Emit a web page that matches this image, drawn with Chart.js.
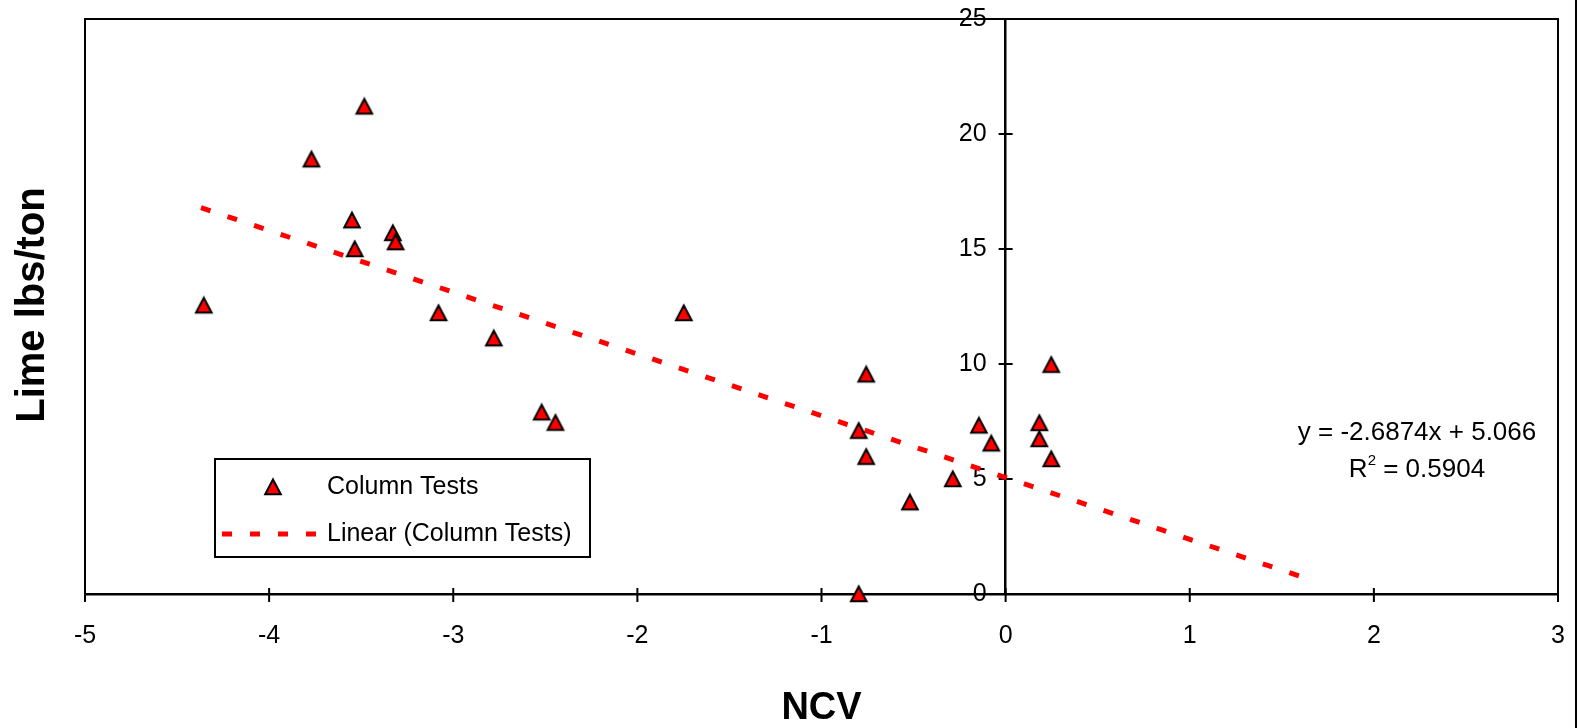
<!DOCTYPE html>
<html>
<head>
<meta charset="utf-8">
<script src="https://cdn.jsdelivr.net/npm/chart.js@4.4.1/dist/chart.umd.min.js"></script>
<style>
  html, body { margin: 0; padding: 0; background: #fff; overflow: hidden; }
  #wrap { width: 1579px; height: 728px; }
  canvas { display: block; }
</style>
</head>
<body>
<div id="wrap"><canvas id="limeChart"></canvas></div>
<script>
// Column test results
const ncv  = [-4.355, -3.77, -3.483, -3.55, -3.535, -3.328, -3.313, -3.08, -2.78, -2.52, -2.445, -1.748,
              -0.757, -0.798, -0.757, -0.798, -0.52, -0.287, -0.145, -0.078, 0.183, 0.183, 0.248, 0.248];
const lime = [12.55, 18.9, 21.2, 16.25, 15.0, 15.7, 15.3, 12.22, 11.12, 7.9, 7.45, 12.22,
              9.55, 7.1, 5.97, 0, 3.99, 5.0, 7.33, 6.55, 7.44, 6.74, 5.87, 9.97];

// Ends of the linear trendline as drawn
const trendNcv  = [-4.37, 1.64];
const trendLime = [16.8, 0.66];

const seriesName = 'Column Tests';
const trendName = 'Linear (Column Tests)';
const equationText = 'y = -2.6874x + 5.066';
const rSquaredValue = '0.5904';

const FONT = '"Liberation Sans", Arial, Helvetica, sans-serif';
Chart.defaults.font.family = FONT;
Chart.defaults.color = '#000';

// Excel style triangle marker
function makeTriangle() {
    const c = document.createElement('canvas');
    c.width = 20;
    c.height = 20;
    const g = c.getContext('2d');
    g.beginPath();
    g.moveTo(10, 2.5);
    g.lineTo(17.8, 17.2);
    g.lineTo(2.2, 17.2);
    g.closePath();
    g.fillStyle = '#ff0000';
    g.fill();
    g.lineWidth = 2;
    g.lineJoin = 'miter';
    g.strokeStyle = '#000';
    g.stroke();
    return c;
}
const triangle = makeTriangle();

function line(ctx, x1, y1, x2, y2) {
    ctx.beginPath();
    ctx.moveTo(x1, y1);
    ctx.lineTo(x2, y2);
    ctx.stroke();
}

const excelLook = {
    id: 'excelLook',
    beforeDatasetsDraw(chart) {
        const { ctx, chartArea: a, scales: { x, y } } = chart;
        const x0 = x.getPixelForValue(0);
        ctx.save();
        ctx.strokeStyle = '#000';
        ctx.lineWidth = 2;
        ctx.strokeRect(a.left, a.top, a.right - a.left, a.bottom - a.top);

        // cross tick marks
        x.ticks.forEach(t => {
            const px = x.getPixelForValue(t.value);
            line(ctx, px, a.bottom - 6, px, a.bottom + 8);
        });
        y.ticks.forEach(t => {
            const py = y.getPixelForValue(t.value);
            line(ctx, x0 - 7, py, x0 + 7, py);
        });

        // y tick labels next to the axis at x = 0
        ctx.fillStyle = '#000';
        ctx.font = '25px ' + FONT;
        ctx.textAlign = 'right';
        ctx.textBaseline = 'middle';
        y.ticks.forEach(t => {
            ctx.fillText(String(t.value), x0 - 19, y.getPixelForValue(t.value));
        });

        // y axis title
        ctx.save();
        ctx.translate(44, 305);
        ctx.rotate(-Math.PI / 2);
        ctx.font = 'bold 40px ' + FONT;
        ctx.textAlign = 'center';
        ctx.textBaseline = 'alphabetic';
        ctx.fillText('Lime lbs/ton', 0, 0);
        ctx.restore();

        // outer frame edge on the right
        line(ctx, 1576, 0, 1576, 728);
        ctx.restore();
    },
    afterDraw(chart) {
        const { ctx } = chart;
        ctx.save();

        // legend box
        ctx.fillStyle = '#fff';
        ctx.fillRect(215, 459, 375, 98);
        ctx.strokeStyle = '#000';
        ctx.lineWidth = 2;
        ctx.strokeRect(215, 459, 375, 98);
        ctx.drawImage(triangle, 263, 477);
        ctx.strokeStyle = '#ff0000';
        ctx.lineWidth = 5;
        ctx.setLineDash([10, 18]);
        line(ctx, 222, 534, 318, 534);
        ctx.setLineDash([]);

        ctx.fillStyle = '#000';
        ctx.font = '25px ' + FONT;
        ctx.textAlign = 'left';
        ctx.textBaseline = 'middle';
        ctx.fillText(seriesName, 327, 487);
        ctx.fillText(trendName, 327, 534);

        // trendline equation
        ctx.font = '26px ' + FONT;
        ctx.textAlign = 'center';
        ctx.fillText(equationText, 1417, 433);

        ctx.textAlign = 'left';
        const wR = ctx.measureText('R').width;
        const rest = ' = ' + rSquaredValue;
        const wRest = ctx.measureText(rest).width;
        ctx.font = '15px ' + FONT;
        const w2 = ctx.measureText('2').width;
        const start = 1417 - (wR + w2 + wRest) / 2;
        ctx.font = '26px ' + FONT;
        ctx.fillText('R', start, 470);
        ctx.fillText(rest, start + wR + w2, 470);
        ctx.font = '15px ' + FONT;
        ctx.fillText('2', start + wR, 461);
        ctx.restore();
    }
};

const ctx = document.getElementById('limeChart').getContext('2d');
new Chart(ctx, {
    type: 'scatter',
    data: {
        datasets: [{
            label: seriesName,
            data: ncv.map((v, i) => ({ x: v, y: lime[i] })),
            pointStyle: triangle,
            pointRadius: 10,
            clip: false
        }, {
            type: 'line',
            label: trendName,
            data: trendNcv.map((v, i) => ({ x: v, y: trendLime[i] })),
            borderColor: '#ff0000',
            borderWidth: 5,
            borderDash: [10, 18],
            borderCapStyle: 'butt',
            pointRadius: 0,
            fill: false,
            order: 1
        }]
    },
    options: {
        responsive: true,
        maintainAspectRatio: false,
        animation: false,
        layout: { padding: { left: 85, right: 21, top: 19, bottom: 0 } },
        plugins: {
            legend: { display: false },
            tooltip: { enabled: false }
        },
        scales: {
            x: {
                type: 'linear',
                position: 'bottom',
                min: -5,
                max: 3,
                afterFit(scale) { scale.height = 134; },
                ticks: {
                    stepSize: 1,
                    color: '#000',
                    // tall line box pushes the labels down without widening the side padding
                    font: { size: 25, lineHeight: '84px' },
                    padding: 0,
                    maxRotation: 0,
                    autoSkip: false
                },
                grid: { drawOnChartArea: false, drawTicks: false },
                border: { display: true, color: '#000', width: 2.5 },
                title: {
                    display: true,
                    text: 'NCV',
                    color: '#000',
                    font: { size: 38, weight: 'bold', lineHeight: 1 },
                    padding: { top: 0, bottom: 0 }
                }
            },
            y: {
                type: 'linear',
                position: { x: 0 },
                min: 0,
                max: 25,
                afterFit(scale) { scale.width = 0; },
                ticks: { display: false, stepSize: 5 },
                grid: { drawOnChartArea: false, drawTicks: false },
                border: { display: true, color: '#000', width: 2.5 }
            }
        }
    },
    plugins: [excelLook]
});
</script>
</body>
</html>
